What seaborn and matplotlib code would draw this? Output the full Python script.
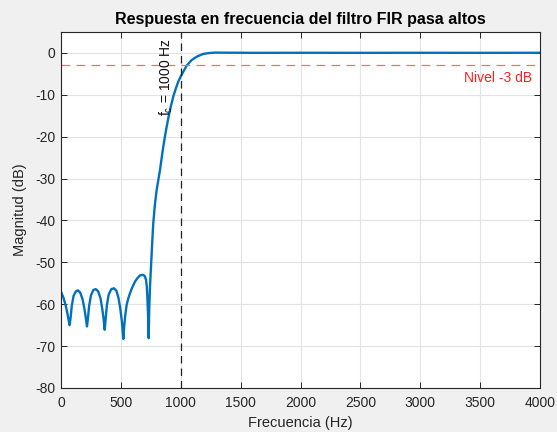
import numpy as np
import pandas as pd
import matplotlib
matplotlib.use("Agg")
import matplotlib.pyplot as plt
import seaborn as sns

# Magnitude response of the high-pass FIR filter (Hz, dB)
freq_hz = [
    0, 20, 40, 55, 65, 72, 80, 90, 105, 125, 142, 160, 180, 195, 207, 217,
    225, 235, 250, 270, 290, 310, 330, 345, 357, 365, 373, 383, 398, 420,
    443, 463, 480, 495, 508, 516, 521, 528, 536, 548, 562, 576, 595, 618,
    640, 660, 687, 700, 710, 716, 721, 727, 732, 737, 743, 749, 755, 763,
    771, 785, 799, 813, 827, 840, 854, 875, 896, 917, 938, 960, 980, 1000,
    1021, 1050, 1091, 1140, 1188, 1240, 1286, 1400, 1600, 2000, 2500, 3000,
    3500, 4000,
]
mag_db = [
    -57.0, -58.4, -60.4, -62.4, -64.0, -65.0, -63.3, -60.4, -58.0, -56.9,
    -56.7, -57.2, -58.8, -61.0, -63.2, -65.3, -63.4, -60.4, -57.9, -56.6,
    -56.4, -56.9, -58.6, -61.2, -63.8, -66.1, -63.5, -60.3, -57.7, -56.4,
    -56.2, -56.8, -58.5, -61.0, -64.0, -66.8, -68.3, -65.2, -62.8, -60.2,
    -58.6, -57.4, -56.0, -54.6, -53.7, -53.1, -53.0, -53.3, -54.2, -55.6,
    -58.2, -62.5, -68.1, -61.0, -56.0, -52.5, -49.2, -44.5, -40.5, -36.0,
    -32.7, -30.3, -27.9, -25.2, -22.4, -18.8, -15.6, -12.8, -10.4, -8.4,
    -6.8, -5.6, -4.5, -3.0, -1.7, -0.8, -0.24, -0.02, 0.07, 0.05, 0.02,
    0.03, 0.02, 0.03, 0.02, 0.03,
]

cutoff_hz = 1000
level_db = -3
x_ticks = [0, 500, 1000, 1500, 2000, 2500, 3000, 3500, 4000]
y_ticks = [-80, -70, -60, -50, -40, -30, -20, -10, 0]

df = pd.DataFrame({"Frecuencia (Hz)": freq_hz, "Magnitud (dB)": mag_db})

sns.set_theme(style="whitegrid")
plt.rcParams["font.family"] = ["Liberation Sans", "DejaVu Sans"]
plt.rcParams["axes.unicode_minus"] = False
plt.rcParams["axes.edgecolor"] = "#262626"
plt.rcParams["xtick.color"] = "#262626"
plt.rcParams["ytick.color"] = "#262626"

fig = plt.figure(figsize=(5.57, 4.32), dpi=100, facecolor="#f0f0f0")
ax = fig.add_axes([0.1095, 0.1019, 0.86, 0.8241])
ax.set_facecolor("white")

sns.lineplot(data=df, x="Frecuencia (Hz)", y="Magnitud (dB)", ax=ax,
             color="#0072BD", linewidth=1.7, sort=False)

ax.axvline(cutoff_hz, color="#222222", linestyle=(0, (6, 4)), linewidth=0.9)
ax.axhline(level_db, color="#ff6a6a", linestyle=(0, (7, 5)), linewidth=0.9)

ax.text(880, -15.0, r"f$_\mathregular{c}$ = 1000 Hz", rotation=90,
        ha="center", va="bottom", fontsize=10, color="#111111")
ax.text(3935, -5.9, "Nivel -3 dB", ha="right", va="center",
        fontsize=10, color="#ff2020")

ax.set_xlim(0, 4000)
ax.set_ylim(-80, 5)
ax.set_xticks(x_ticks)
ax.set_yticks(y_ticks)
ax.grid(True, color="#e3e3e3", linewidth=0.8)
for s in ax.spines.values():
    s.set_visible(True)
    s.set_color("#262626")
    s.set_linewidth(0.8)

ax.tick_params(direction="in", length=4, width=0.7, labelsize=10,
               top=True, right=True, bottom=True, left=True,
               labeltop=False, labelright=False,
               labelcolor="#262626")
ax.tick_params(axis="x", pad=6)
ax.tick_params(axis="y", pad=4)
ax.set_xlabel("Frecuencia (Hz)", fontsize=10.5, color="#262626", labelpad=4)
ax.set_ylabel("Magnitud (dB)", fontsize=10.5, color="#262626", labelpad=6)
ax.set_title("Respuesta en frecuencia del filtro FIR pasa altos",
             fontsize=11.5, fontweight="bold", color="black", pad=6)

fig.savefig("out.png", dpi=100, facecolor=fig.get_facecolor())
